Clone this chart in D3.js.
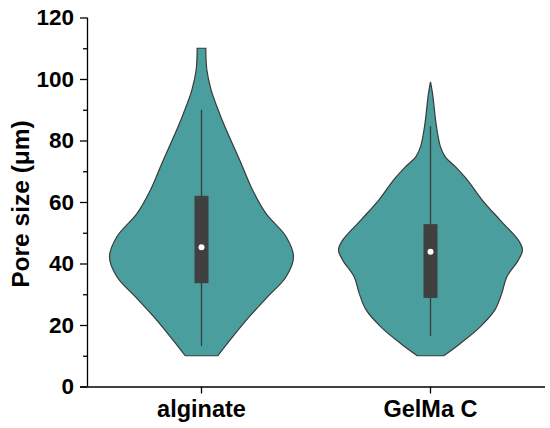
<!DOCTYPE html>
<html>
<head>
<meta charset="utf-8">
<script src="https://cdn.jsdelivr.net/npm/d3@7"></script>
<style>
  body { margin: 0; background: #fff; }
  svg { display: block; }
  text { font-family: "Liberation Sans", Arial, sans-serif; font-weight: bold; fill: #000; }
</style>
</head>
<body>
<svg id="chart" width="550" height="428"></svg>
<script>
// categories and y ticks
const categories = ["alginate", "GelMa C"];
const majorTicks = [0, 20, 40, 60, 80, 100, 120];
const minorTicks = [10, 30, 50, 70, 90, 110];

// kernel density outline (pore size level, relative width)
const alginateLevels  = [10, 16.2, 22.7, 29.2, 35.7, 42.2, 48.7, 56.3, 63.9, 72.6, 83.4, 88.8, 96.4, 103, 110];
const alginateDensity = [0.177, 0.34, 0.52, 0.72, 0.92, 1.0, 0.92, 0.70, 0.555, 0.43, 0.27, 0.196, 0.105, 0.058, 0.047];
const gelmaLevels  = [10, 14, 19.4, 24.9, 30.3, 35.7, 41.1, 44.4, 47.6, 54.1, 60.7, 67.2, 71.5, 74.7, 78, 84.5, 95.3, 99.1];
const gelmaDensity = [0.144, 0.325, 0.54, 0.70, 0.775, 0.83, 0.955, 1.0, 0.955, 0.757, 0.56, 0.40, 0.27, 0.16, 0.108, 0.065, 0.022, 0];

// box stats: [whisker low, q1, median, q3, whisker high]
const alginateBox = [13.2, 33.6, 45.3, 62, 90];
const gelmaBox    = [16.4, 28.8, 43.8, 52.8, 84.7];

const violins = [
  {name: categories[0], levels: alginateLevels, density: alginateDensity, box: alginateBox},
  {name: categories[1], levels: gelmaLevels, density: gelmaDensity, box: gelmaBox}
];

const svg = d3.select("#chart");
const plotLeft = 87, plotRight = 545, plotTop = 17.5, plotBottom = 386.5;

const x = d3.scaleBand().domain(categories).range([plotLeft, plotRight]);
const y = d3.scaleLinear().domain([0, 120]).range([plotBottom, plotTop]);
const w = d3.scaleLinear().domain([0, 1]).range([0, 92]);

const fillColor = "#4b9e9e";
const lineColor = "#3a3a3a";

violins.forEach(v => {
  const cx = x(v.name) + x.bandwidth() / 2;
  const pts = v.levels.map((l, i) => ({l: l, d: v.density[i]}));

  const area = d3.area()
    .y(d => y(d.l))
    .x0(d => cx - w(d.d))
    .x1(d => cx + w(d.d))
    .curve(d3.curveCatmullRom.alpha(0.5));

  svg.append("path")
    .attr("d", area(pts))
    .attr("fill", fillColor)
    .attr("stroke", lineColor)
    .attr("stroke-width", 1.2);

  const b = v.box;
  svg.append("line")
    .attr("x1", cx).attr("x2", cx)
    .attr("y1", y(b[0])).attr("y2", y(b[4]))
    .attr("stroke", lineColor)
    .attr("stroke-width", 1.3);

  svg.append("rect")
    .attr("x", cx - 7)
    .attr("width", 14)
    .attr("y", y(b[3]))
    .attr("height", y(b[1]) - y(b[3]))
    .attr("fill", "#404040");

  svg.append("circle")
    .attr("cx", cx)
    .attr("cy", y(b[2]))
    .attr("r", 3)
    .attr("fill", "#fff");
});

// axes
const yAxis = svg.append("g")
  .attr("transform", "translate(" + plotLeft + ",0)")
  .call(d3.axisLeft(y).tickValues(majorTicks).tickSize(7).tickPadding(6));

svg.append("g")
  .attr("transform", "translate(" + plotLeft + ",0)")
  .call(d3.axisLeft(y).tickValues(minorTicks).tickSize(4).tickFormat(""))
  .call(g => g.select(".domain").remove());

const xAxis = svg.append("g")
  .attr("transform", "translate(0," + plotBottom + ")")
  .call(d3.axisBottom(x).tickSize(7).tickPadding(7).tickSizeOuter(0));

yAxis.selectAll("text").style("font-size", "22.5px").attr("fill", "#000");
xAxis.selectAll("text").style("font-size", "23.5px").attr("fill", "#000");
svg.selectAll(".domain, .tick line").attr("stroke", "#000").attr("stroke-width", 1.3);
xAxis.select(".domain").attr("d", "M" + (plotLeft - 7) + ",0.5H" + plotRight);
yAxis.select(".domain").attr("d", "M0.5," + plotTop + "V" + plotBottom);

svg.append("text")
  .attr("transform", "translate(28.5," + ((plotTop + plotBottom) / 2 + 2) + ") rotate(-90)")
  .attr("text-anchor", "middle")
  .style("font-size", "24.5px")
  .text("Pore size (μm)");
</script>
</body>
</html>
